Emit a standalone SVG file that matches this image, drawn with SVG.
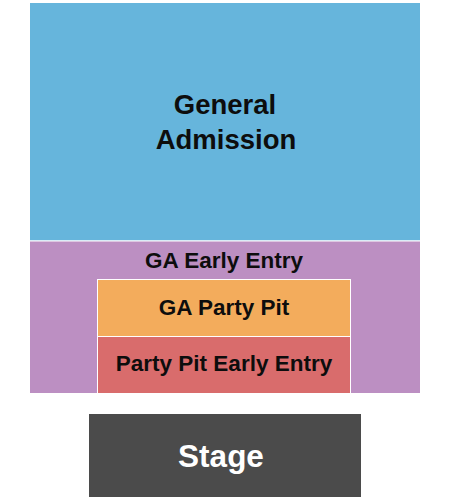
<svg xmlns="http://www.w3.org/2000/svg" width="450" height="500" viewBox="0 0 450 500">
<style>
.sec{stroke:#ffffff;stroke-width:1}
.lbl{font-family:"Liberation Sans",Arial,sans-serif;font-weight:bold;text-anchor:middle;fill:#0d0d0d}
</style>
<rect width="450" height="500" fill="#ffffff"/>
<g id="general-admission">
<rect class="sec" x="29.5" y="2.5" width="391" height="238.5" fill="#66b5dc"/>
<text class="lbl" x="225" y="114" font-size="27.5">General</text>
<text class="lbl" x="226" y="148.5" font-size="27.5">Admission</text>
</g>
<g id="ga-early-entry">
<rect class="sec" x="29.5" y="241" width="391" height="152.5" fill="#bc8fc2"/>
<text class="lbl" x="224" y="268" font-size="22.5">GA Early Entry</text>
</g>
<g id="ga-party-pit">
<rect class="sec" x="97.5" y="279.5" width="253" height="57" fill="#f3ac5c"/>
<text class="lbl" x="224" y="314.5" font-size="22.5">GA Party Pit</text>
</g>
<g id="party-pit-early-entry">
<rect class="sec" x="97.5" y="336.5" width="253" height="57" fill="#d96c6c"/>
<text class="lbl" x="224" y="370.5" font-size="22.5">Party Pit Early Entry</text>
</g>
<g id="stage">
<rect x="89" y="414" width="272" height="83" fill="#4b4b4b"/>
<text class="lbl" x="221" y="467" font-size="31.5" style="fill:#ffffff">Stage</text>
</g>
<g id="connectors"/>
</svg>
